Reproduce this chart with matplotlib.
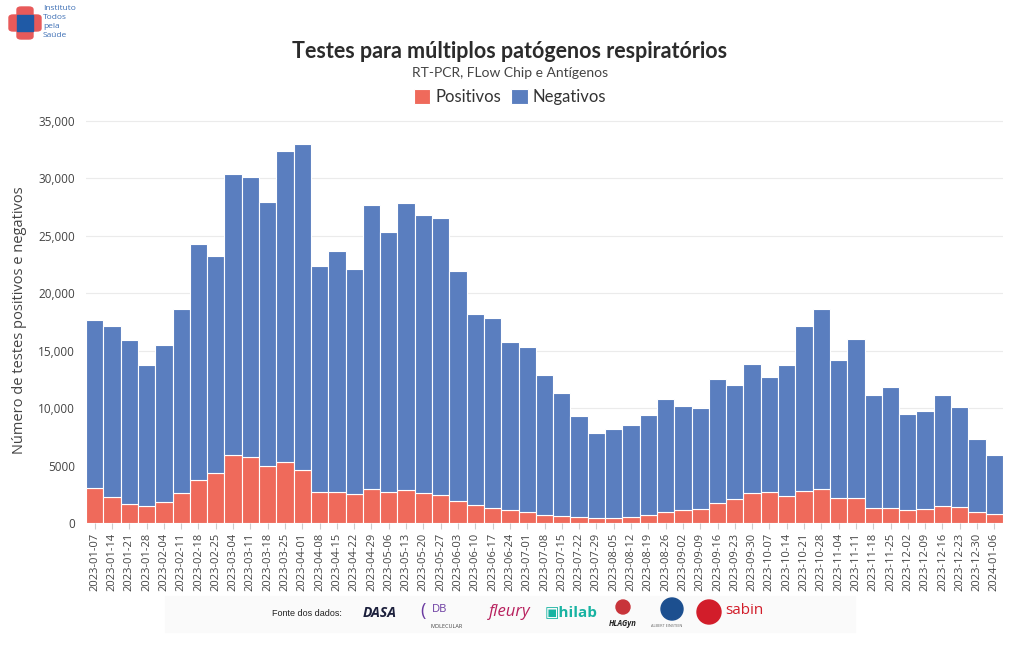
import numpy as np
import pandas as pd
import matplotlib
matplotlib.use("Agg")
import matplotlib.pyplot as plt
from matplotlib.patches import Rectangle, FancyBboxPatch, Ellipse

# weekly data
dates = pd.date_range("2023-01-07", "2024-01-06", freq="7D").strftime("%Y-%m-%d").tolist()

totals = [17660, 17140, 15890, 13710, 15510, 18650, 24250, 23240, 30380, 30090,
          27970, 32360, 32990, 22340, 23700, 22130, 27710, 25330, 27820, 26840,
          26520, 21960, 18210, 17860, 15740, 15340, 12900, 11330, 9350, 7840,
          8190, 8570, 9380, 10750, 10220, 10050, 12550, 12020, 13850, 12750,
          13770, 17110, 18590, 14200, 16000, 11120, 11880, 9500, 9730, 11100,
          10080, 7320, 5950]
positivos = [3050, 2270, 1680, 1510, 1860, 2610, 3780, 4360, 5930, 5750,
             5000, 5340, 4650, 2730, 2730, 2560, 2990, 2730, 2900, 2610,
             2470, 1920, 1570, 1340, 1160, 990, 730, 610, 520, 470,
             470, 520, 700, 960, 1130, 1220, 1740, 2060, 2610, 2730,
             2380, 2820, 2990, 2210, 2210, 1310, 1340, 1160, 1250, 1480,
             1390, 930, 780]
negativos = [t - p for t, p in zip(totals, positivos)]

RED = "#EF6A5B"
BLUE = "#5A7EBF"
TXT = "#444444"

plt.rcParams["font.family"] = ["Open Sans", "DejaVu Sans"]

W, H = 1020, 650
fig = plt.figure(figsize=(W / 100, H / 100), dpi=100)
ax = fig.add_axes([86 / W, 1 - 523 / H, 917 / W, 405 / H])

x = np.arange(len(dates))
ax.bar(x, positivos, width=1.0, color=RED, edgecolor="white", linewidth=0.8, label="Positivos")
ax.bar(x, negativos, bottom=positivos, width=1.0, color=BLUE, edgecolor="white",
       linewidth=0.8, label="Negativos")

ax.set_xlim(-0.5, len(dates) - 0.5)
ax.set_ylim(0, 35250)
yt = np.arange(0, 35001, 5000)
ax.set_yticks(yt)
ax.set_yticklabels(["0", "5000"] + [f"{v:,}" for v in yt[2:]])
ax.set_xticks(x)
ax.set_xticklabels(dates, rotation=90, fontsize=8, color=TXT)
ax.tick_params(axis="y", length=0, labelsize=8.5, labelcolor=TXT, pad=8)
ax.tick_params(axis="x", length=4, color="#cccccc", pad=3)
ax.grid(axis="y", color="#ebebeb", linewidth=0.8)
ax.set_axisbelow(True)
for s in ax.spines.values():
    s.set_visible(False)
ax.set_ylabel("Número de testes positivos e negativos", fontsize=10.5, color=TXT, labelpad=8)

# titles and legend
fig.text(0.5, 1 - 52 / H, "Testes para múltiplos patógenos respiratórios", ha="center", va="center",
         fontsize=15.5, fontweight="bold", color="#2b2b2b", family=["Lato", "DejaVu Sans"])
fig.text(0.5, 1 - 73 / H, "RT-PCR, FLow Chip e Antígenos", ha="center", va="center",
         fontsize=10, color=TXT, family=["Lato", "DejaVu Sans"])
fig.legend(loc="center", bbox_to_anchor=(0.5, 1 - 97 / H), ncol=2, frameon=False,
           handlelength=1.0, handleheight=1.0, handletextpad=0.3,
           columnspacing=0.6, prop={"family": ["Lato", "DejaVu Sans"], "size": 12},
           labelcolor="#333333")


def fx(px):
    return px / W


def fy(py):
    return 1 - py / H


def dot(cx, cy, r, color):
    fig.patches.append(Ellipse((fx(cx), fy(cy)), 2 * r / W, 2 * r / H,
                               transform=fig.transFigure, color=color))


# logo top-left
fig.patches.append(FancyBboxPatch((fx(9), fy(31)), 32 / W, 16 / H,
                                  boxstyle="round,pad=0,rounding_size=0.004",
                                  transform=fig.transFigure, color="#E85A5A"))
fig.patches.append(FancyBboxPatch((fx(17), fy(39)), 16 / W, 32 / H,
                                  boxstyle="round,pad=0,rounding_size=0.004",
                                  transform=fig.transFigure, color="#E85A5A"))
fig.patches.append(Rectangle((fx(17), fy(31)), 16 / W, 16 / H,
                             transform=fig.transFigure, color="#1F5AA6"))
for i, w in enumerate(["Instituto", "Todos", "pela", "Saúde"]):
    fig.text(fx(43), fy(9 + i * 8.7), w, fontsize=6, color="#3d6fb5", va="center")

# data sources banner
fig.patches.append(Rectangle((fx(165), fy(632)), 690 / W, 36 / H,
                             transform=fig.transFigure, color="#fafafa", zorder=0))
fig.text(fx(272), fy(613), "Fonte dos dados:", fontsize=6.5, color="#222222", va="center",
         family=["Liberation Sans", "DejaVu Sans"])
fig.text(fx(363), fy(613), "DASA", fontsize=10, fontweight="bold", color="#1b1f3b", va="center",
         style="italic")
fig.text(fx(420), fy(611), "(", fontsize=13, color="#6a3aa0", va="center")
fig.text(fx(432), fy(609), "DB", fontsize=8, color="#6a3aa0", va="center")
fig.text(fx(431), fy(626), "MOLECULAR", fontsize=4, color="#444444", va="center")
fig.text(fx(489), fy(612), "fleury", fontsize=12, color="#B8215E", va="center", style="italic")
fig.text(fx(545), fy(612), "\u25a3hilab", fontsize=11, fontweight="bold", color="#18B3A2",
         va="center")
dot(623, 607, 7, "#c8343a")
fig.text(fx(609), fy(623), "HLAGyn", fontsize=5.5, fontweight="bold", color="#222222",
         va="center", style="italic")
dot(672, 609, 11, "#1c4f8f")
fig.text(fx(651), fy(626), "ALBERT EINSTEIN", fontsize=2.8, color="#666666", va="center")
dot(709, 612, 12, "#d21d2a")
fig.text(fx(725), fy(610), "sabin", fontsize=11, color="#d21d2a", va="center")

fig.savefig("out.png", dpi=100)
